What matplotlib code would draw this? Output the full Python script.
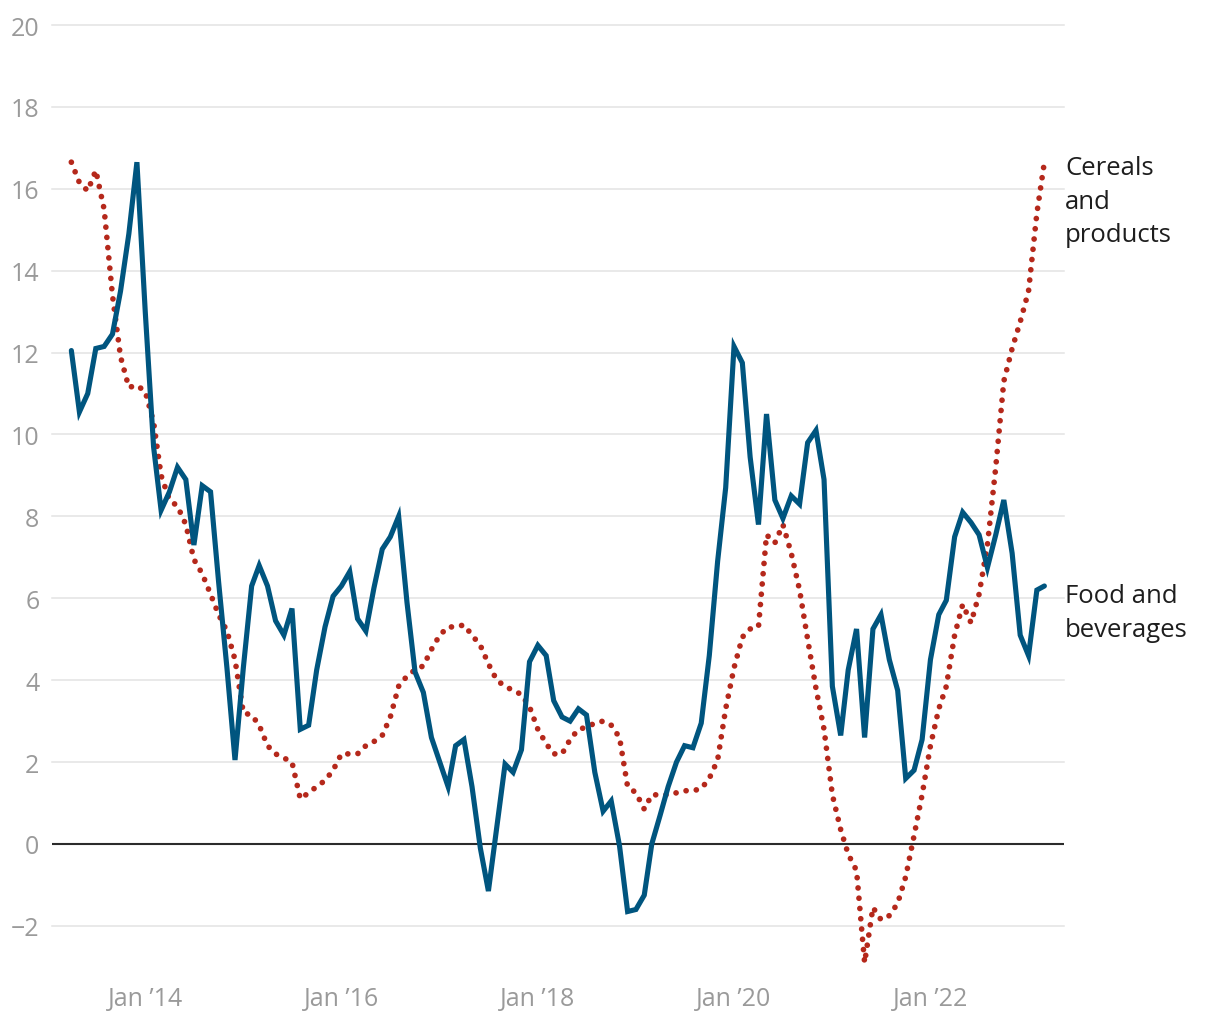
import matplotlib
matplotlib.use("Agg")
import matplotlib.pyplot as plt
import pandas as pd

plt.rcParams['font.family'] = ['Open Sans', 'DejaVu Sans']

# monthly, Apr 2013 - Mar 2023
months = pd.date_range('2013-04-01', periods=120, freq='MS')

food = [12.05, 10.55, 11.0, 12.1, 12.15, 12.45, 13.5, 14.9, 16.65, 13.0,
        9.7, 8.15, 8.6, 9.2, 8.9, 7.3, 8.75, 8.6, 6.4, 4.3,
        2.05, 4.3, 6.3, 6.8, 6.3, 5.45, 5.1, 5.75, 2.8, 2.9,
        4.25, 5.3, 6.05, 6.3, 6.65, 5.5, 5.2, 6.25, 7.2, 7.5,
        8.0, 5.9, 4.2, 3.7, 2.6, 2.0, 1.4, 2.4, 2.55, 1.4,
        -0.1, -1.15, 0.4, 1.95, 1.75, 2.3, 4.45, 4.85, 4.6, 3.5,
        3.1, 3.0, 3.3, 3.15, 1.75, 0.8, 1.05, -0.05, -1.65, -1.6,
        -1.25, 0.0, 0.7, 1.4, 2.0, 2.4, 2.35, 2.95, 4.6, 6.9,
        8.7, 12.15, 11.75, 9.45, 7.8, 10.5, 8.4, 7.95, 8.5, 8.3,
        9.8, 10.1, 8.9, 3.85, 2.65, 4.25, 5.25, 2.6, 5.25, 5.6,
        4.5, 3.75, 1.6, 1.8, 2.55, 4.5, 5.6, 5.95, 7.5, 8.1,
        7.85, 7.55, 6.75, 7.55, 8.4, 7.1, 5.1, 4.6, 6.2, 6.3]

cereals = [16.65, 16.15, 15.95, 16.45, 15.5, 13.4, 11.9, 11.15, 11.2, 11.05,
           10.3, 9.0, 8.4, 8.25, 7.8, 6.95, 6.6, 6.1, 5.6, 5.2,
           4.5, 3.2, 3.15, 2.9, 2.4, 2.2, 2.1, 2.0, 1.1, 1.25,
           1.4, 1.55, 1.8, 2.2, 2.2, 2.2, 2.4, 2.5, 2.65, 3.1,
           3.85, 4.1, 4.25, 4.35, 4.75, 5.1, 5.3, 5.3, 5.35, 5.1,
           4.85, 4.4, 4.0, 3.85, 3.75, 3.65, 3.35, 2.8, 2.45, 2.2,
           2.2, 2.55, 2.8, 2.85, 2.95, 3.0, 2.9, 2.6, 1.4, 1.25,
           0.85, 1.2, 1.2, 1.2, 1.25, 1.3, 1.3, 1.35, 1.6, 2.05,
           3.3, 4.3, 5.05, 5.25, 5.3, 7.55, 7.35, 7.8, 7.1, 6.2,
           5.0, 3.8, 2.8, 1.2, 0.35, -0.25, -0.65, -2.9, -1.55, -1.85,
           -1.75, -1.45, -0.8, 0.2, 1.2, 2.4, 3.3, 3.85, 5.1, 5.85,
           5.4, 6.1, 7.3, 9.2, 11.3, 12.1, 12.75, 13.5, 15.4, 16.65]

y_ticks = list(range(-2, 21, 2))
x_ticks = ['2014-01-01', '2016-01-01', '2018-01-01', '2020-01-01', '2022-01-01']
x_labels = ['Jan \u201914', 'Jan \u201916', 'Jan \u201918', 'Jan \u201920', 'Jan \u201922']

blue = '#00557f'
red = '#b5281b'
grey_text = '#9a9a9a'

fig = plt.figure(figsize=(12.2, 10.2), dpi=100)
ax = fig.add_axes([52 / 1220, 1 - 976 / 1020, (1064 - 52) / 1220, (976 - 26) / 1020])

for t in y_ticks:
    if t == 0:
        continue
    ax.axhline(t, color='#e3e3e3', lw=1.1, zorder=1, clip_on=False)
ax.axhline(0, color='#2b2b2b', lw=1.5, zorder=2)

ax.plot(months, cereals, color=red, lw=4.1, linestyle=(0, (0.01, 1.8)),
        dash_capstyle='round', zorder=3)
ax.plot(months, food, color=blue, lw=3.7, solid_joinstyle='miter',
        solid_capstyle='round', zorder=4)

ax.set_ylim(-3.2, 20)
ax.set_xlim(pd.Timestamp('2013-01-19'), pd.Timestamp('2023-05-13'))

ax.set_yticks(y_ticks)
ax.set_yticklabels([str(t).replace('-', '\u2212') for t in y_ticks])
ax.set_xticks([pd.Timestamp(d) for d in x_ticks])
ax.set_xticklabels(x_labels)
ax.tick_params(axis='both', length=0, labelsize=18, labelcolor=grey_text)
ax.tick_params(axis='y', pad=9)
ax.tick_params(axis='x', pad=8)

for s in ax.spines.values():
    s.set_visible(False)

ax.annotate('Cereals\nand\nproducts', xy=(months[-1], cereals[-1]),
            xytext=(15, 5), textcoords='offset points', va='top', ha='left',
            fontsize=18.5, color='#1e1e1e', linespacing=1.45, annotation_clip=False)
ax.annotate('Food and\nbeverages', xy=(months[-1], food[-1]),
            xytext=(15, 2), textcoords='offset points', va='top', ha='left',
            fontsize=18.5, color='#1e1e1e', linespacing=1.45, annotation_clip=False)

fig.savefig('out.png', dpi=100, facecolor='white')
